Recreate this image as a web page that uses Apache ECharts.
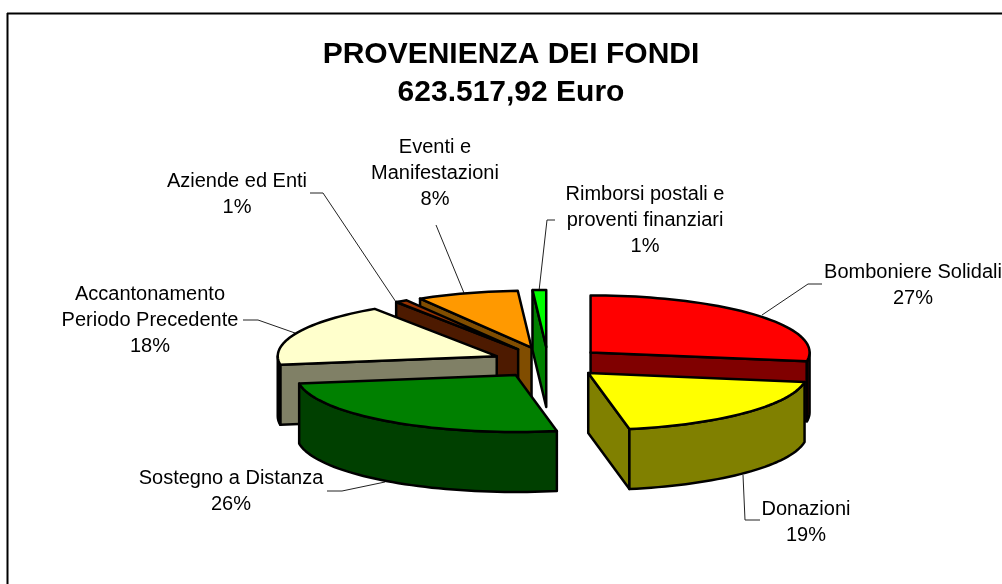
<!DOCTYPE html>
<html>
<head>
<meta charset="utf-8">
<title>Provenienza dei fondi</title>
<script src="https://cdn.jsdelivr.net/npm/echarts@6/dist/echarts.min.js"></script>
<style>
  html, body { margin: 0; padding: 0; background: #fff; }
  #chart { width: 1002px; height: 584px; }
</style>
</head>
<body>
<div id="chart"></div>
<script>
// data (labels are the rounded values)
const sliceNames = [
  'Bomboniere Solidali',
  'Donazioni',
  'Sostegno a Distanza',
  'Accantonamento\nPeriodo Precedente',
  'Aziende ed Enti',
  'Eventi e\nManifestazioni',
  'Rimborsi postali e\nproventi finanziari',
]
const sliceValues = [27.49, 19.49, 25.6, 18, 0.9, 7.5, 1]

// colours per slice
const topColors = ['#ff0000', '#ffff00', '#008000', '#ffffcc', '#993300', '#ff9900', '#00ff00']
const sideColors = ['#800000', '#808000', '#004000', '#808066', '#4d1a00', '#804d00', '#008000']

// back to front
const drawOrder = [6, 5, 4, 3, 2, 0, 1]

// pie projection
const cx = 548
const cy = 362.4
const rx = 219
const ry = 57
const depth = 60
const explodeX = 56
const explodeY = 15.4

// label layout: centre of the text block, first line y, leader line
const labelCenters = [[913, 273], [806, 510], [231, 479], [150, 295], [237, 182], [435, 148], [645, 195]]
const leaderLines = [
  [[822, 284], [808, 284], [762, 315]],
  [[760, 520], [745, 520], [743, 475]],
  [[327, 491], [342, 491], [385, 482]],
  [[243, 320], [258, 320], [295, 333]],
  [[310, 193], [323, 193], [396, 302]],
  [[436, 225], [464, 293]],
  [[555, 220], [547, 220], [539, 291]],
]

const total = sliceValues.reduce((a, b) => a + b, 0)
const rad = (deg) => (deg * Math.PI) / 180

function sliceAngles(index) {
  let before = 0
  for (let i = 0; i < index; i++) before += sliceValues[i]
  return [(before / total) * 360, ((before + sliceValues[index]) / total) * 360]
}

function renderSlice(params, api) {
  const index = api.value(1)
  const [a0, a1] = sliceAngles(index)
  const mid = rad((a0 + a1) / 2)
  const ox = cx + explodeX * Math.sin(mid)
  const oy = cy - explodeY * Math.cos(mid)
  const rim = (deg, drop = 0) => [ox + rx * Math.sin(rad(deg)), oy - ry * Math.cos(rad(deg)) + drop]
  const arc = (from, to, drop = 0) => {
    const pts = []
    const steps = Math.max(2, Math.ceil((to - from) / 2))
    for (let s = 0; s <= steps; s++) pts.push(rim(from + ((to - from) * s) / steps, drop))
    return pts
  }
  const stroke = { stroke: '#000', lineWidth: 2.5, lineJoin: 'round' }
  const polygon = (points, fill) => ({
    type: 'polygon',
    shape: { points },
    style: { fill, ...stroke },
  })
  const children = []

  // cut faces that look towards the viewer
  const faceAt = (deg) => polygon(
    [[ox, oy], rim(deg), rim(deg, depth), [ox, oy + depth]],
    sideColors[index]
  )
  if (Math.sin(rad(a0)) < 0) children.push(faceAt(a0))
  if (Math.sin(rad(a1)) > 0) children.push(faceAt(a1))

  // outer wall, front half only
  const wallFrom = Math.max(a0, 90)
  const wallTo = Math.min(a1, 270)
  if (wallTo > wallFrom) {
    children.push(polygon(
      arc(wallFrom, wallTo).concat(arc(wallFrom, wallTo, depth).reverse()),
      sideColors[index]
    ))
  }

  // top face
  children.push(polygon([[ox, oy]].concat(arc(a0, a1)), topColors[index]))
  return { type: 'group', children }
}

function renderLabel(params, api) {
  const index = api.value(1)
  const [x, y] = labelCenters[index]
  const text = `${sliceNames[index]}\n${Math.round(sliceValues[index])}%`
  return {
    type: 'group',
    children: [
      {
        type: 'polyline',
        shape: { points: leaderLines[index] },
        style: { fill: 'none', stroke: '#222', lineWidth: 1 },
      },
      {
        type: 'text',
        style: {
          x,
          y: y - 13,
          text,
          fill: '#000',
          font: '20px "Liberation Sans", Arial, sans-serif',
          lineHeight: 25.6,
          align: 'center',
          verticalAlign: 'top',
        },
      },
    ],
  }
}

const chart = echarts.init(document.getElementById('chart'), null, { renderer: 'canvas' })

chart.setOption({
  animation: false,
  backgroundColor: '#fff',
  title: {
    text: 'PROVENIENZA DEI FONDI\n623.517,92 Euro',
    left: 506,
    top: 31,
    textAlign: 'center',
    textStyle: {
      fontFamily: '"Liberation Sans", Arial, sans-serif',
      fontSize: 30,
      fontWeight: 'bold',
      color: '#000',
      lineHeight: 37.5,
    },
  },
  // the chart frame is cut off at the right and bottom of the picture
  graphic: [
    { type: 'line', shape: { x1: 7, y1: 13.5, x2: 1002, y2: 13.5 }, style: { stroke: '#000', lineWidth: 2 } },
    { type: 'line', shape: { x1: 7.5, y1: 13, x2: 7.5, y2: 584 }, style: { stroke: '#000', lineWidth: 2 } },
  ],
  series: [
    {
      type: 'custom',
      coordinateSystem: 'none',
      renderItem: renderSlice,
      data: drawOrder.map((i) => [sliceValues[i], i]),
      silent: true,
      z: 2,
    },
    {
      type: 'custom',
      coordinateSystem: 'none',
      renderItem: renderLabel,
      data: sliceValues.map((v, i) => [v, i]),
      silent: true,
      z: 1,
    },
  ],
})

window.addEventListener('resize', () => chart.resize())
</script>
</body>
</html>
